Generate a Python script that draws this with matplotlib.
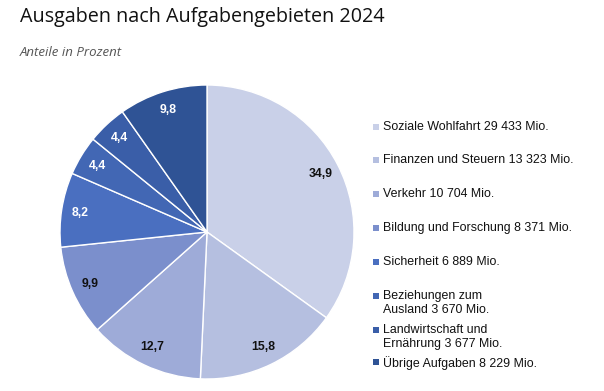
import matplotlib.pyplot as plt
from matplotlib.patches import Rectangle

# Ausgaben in Mio. Franken
labels = ["Soziale Wohlfahrt", "Finanzen und Steuern", "Verkehr",
          "Bildung und Forschung", "Sicherheit",
          "Beziehungen zum\nAusland", "Landwirtschaft und\nErnährung",
          "Übrige Aufgaben"]
values = [29433, 13323, 10704, 8371, 6889, 3670, 3677, 8229]
value_text = ["29 433", "13 323", "10 704", "8 371", "6 889", "3 670", "3 677", "8 229"]
colors = ["#c9d0e8", "#b5bfe0", "#9eabd8", "#7b8fcc", "#4a6fc0",
          "#4267b4", "#3a5ea8", "#2f5395"]
label_colors = ["#111111"] * 4 + ["white"] * 4

fig = plt.figure(figsize=(6.04, 3.91), dpi=100)

fig.text(20 / 604, 1 - 17 / 391, "Ausgaben nach Aufgabengebieten 2024",
         fontsize=14.2, family="Open Sans", color="#111111", va="center")
fig.text(20 / 604, 1 - 52 / 391, "Anteile in Prozent", fontsize=9.5,
         family="Open Sans", style="italic", color="#555555", va="center")

# pie: centre (207, 232) px, radius 147 px
ax = fig.add_axes([60 / 604, 12 / 391, 294 / 604, 294 / 391])
wedges, texts, autotexts = ax.pie(
    values, colors=colors, startangle=90, counterclock=False, radius=1,
    wedgeprops=dict(edgecolor="white", linewidth=1),
    autopct=lambda p: f"{p:.1f}".replace(".", ","), pctdistance=0.87)
for t, c in zip(autotexts, label_colors):
    t.set_color(c)
    t.set_fontsize(8.8)
    t.set_fontweight("bold")
    t.set_family("Liberation Sans")
ax.set_xlim(-1, 1)
ax.set_ylim(-1, 1)
ax.set_aspect("equal")
ax.axis("off")

# legend, placed by hand like the original
legend_y = [127, 160, 194, 228, 262, 296, 330, 362]
for lab, v, col, y in zip(labels, value_text, colors, legend_y):
    fig.patches.append(Rectangle((373 / 604, 1 - (y + 3) / 391), 6 / 604, 6 / 391,
                                 transform=fig.transFigure, facecolor=col,
                                 edgecolor="none"))
    fig.text(383 / 604, 1 - (y - 6) / 391, f"{lab} {v} Mio.", fontsize=8.9,
             family="Liberation Sans", color="#111111", va="top",
             linespacing=1.2)

fig.savefig("out.png", dpi=100)
